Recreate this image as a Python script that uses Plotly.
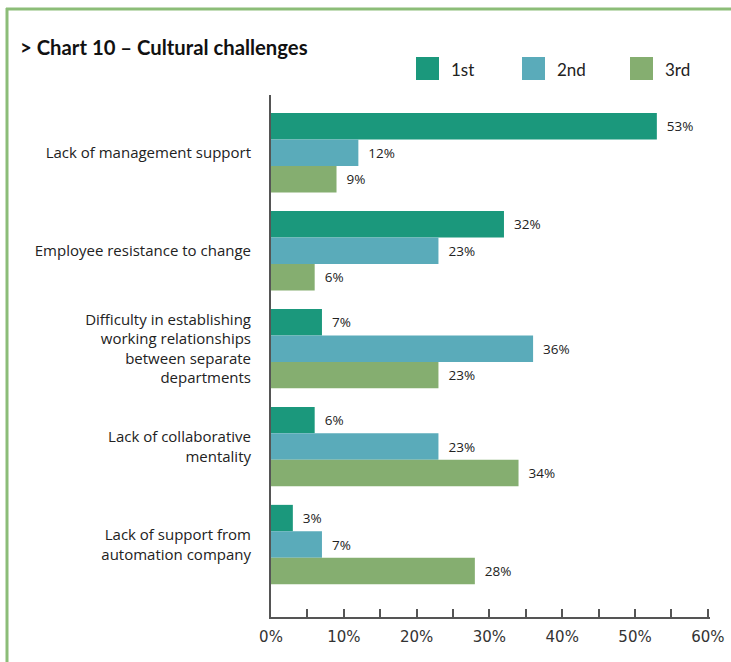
import plotly.graph_objects as go

categories = [
    "Lack of management support",
    "Employee resistance to change",
    "Difficulty in establishing<br>working relationships<br>between separate<br>departments",
    "Lack of collaborative<br>mentality",
    "Lack of support from<br>automation company",
]
series_names = ["1st", "2nd", "3rd"]
first = [53, 32, 7, 6, 3]
second = [12, 23, 36, 23, 7]
third = [9, 6, 23, 34, 28]
colors = ["#1b987c", "#5aabba", "#85ae70"]
x_ticks = [0, 10, 20, 30, 40, 50, 60]
x_tick_labels = [f"{t}%" for t in x_ticks]

W, H = 731, 662
L, R, T, B = 271, 21, 95, 45
PW, PH = W - L - R, H - T - B

def px_x(px):
    return (px - L) / PW

def px_y(py):
    return (H - B - py) / PH

fig = go.Figure()
for name, vals, col in zip(series_names, [first, second, third], colors):
    fig.add_trace(go.Bar(
        y=categories, x=vals, name=name, orientation="h",
        marker=dict(color=col, line=dict(width=0)),
        text=[f"\u00a0\u00a0{v}%" for v in vals],
        textposition="outside",
        textfont=dict(family="Open Sans", size=13.5, color="#222"),
        cliponaxis=False, showlegend=False,
    ))

shapes = []
annotations = []
# legend swatches
legend_x = [416, 522, 630]
for name, col, lx in zip(series_names, colors, legend_x):
    shapes.append(dict(type="rect", xref="paper", yref="paper",
                       x0=px_x(lx), x1=px_x(lx + 23), y0=px_y(80), y1=px_y(57),
                       fillcolor=col, line=dict(width=0)))
    annotations.append(dict(xref="paper", yref="paper", x=px_x(lx + 33), y=px_y(69),
                            text=name, showarrow=False, xanchor="left", yanchor="middle",
                            font=dict(family="Lato", size=17, color="#222")))

# frame lines
frame_col = "#8cbd78"
shapes.append(dict(type="line", xref="paper", yref="paper",
                   x0=px_x(6), x1=px_x(735), y0=px_y(9), y1=px_y(9),
                   line=dict(color=frame_col, width=3)))
shapes.append(dict(type="line", xref="paper", yref="paper",
                   x0=px_x(7), x1=px_x(7), y0=px_y(8), y1=px_y(670),
                   line=dict(color=frame_col, width=3)))

annotations.append(dict(xref="paper", yref="paper", x=px_x(18), y=px_y(47),
                        text="<b>> Chart 10 – Cultural challenges</b>", showarrow=False,
                        xanchor="left", yanchor="middle",
                        font=dict(family="Lato", size=20.3, color="#111")))

fig.update_layout(
    width=W, height=H,
    margin=dict(l=L, r=R, t=T, b=B, pad=0),
    paper_bgcolor="white", plot_bgcolor="white",
    barmode="group", bargap=0.19, bargroupgap=0,
    shapes=shapes, annotations=annotations,
    font=dict(family="Open Sans", color="#222"),
)
fig.update_xaxes(
    range=[0, 60.3], tickvals=x_ticks, ticktext=x_tick_labels,
    automargin=False,
    showgrid=False, zeroline=False,
    showline=True, linecolor="#555", linewidth=2,
    ticks="inside", ticklen=8, tickwidth=1.5, tickcolor="#555",
    minor=dict(ticks="inside", dtick=5, ticklen=8, tickwidth=1.5, tickcolor="#555"),
    ticklabelstandoff=5,
    tickfont=dict(family="DejaVu Sans", size=15, color="#333"),
)
fig.update_yaxes(
    type="category", range=[4.74, -0.59],
    automargin=False,
    showgrid=False, zeroline=False,
    showline=True, linecolor="#555", linewidth=2,
    ticks="", ticklabelstandoff=15,
    tickfont=dict(family="Open Sans", size=15, color="#222"),
)

fig.write_html("out.html")
